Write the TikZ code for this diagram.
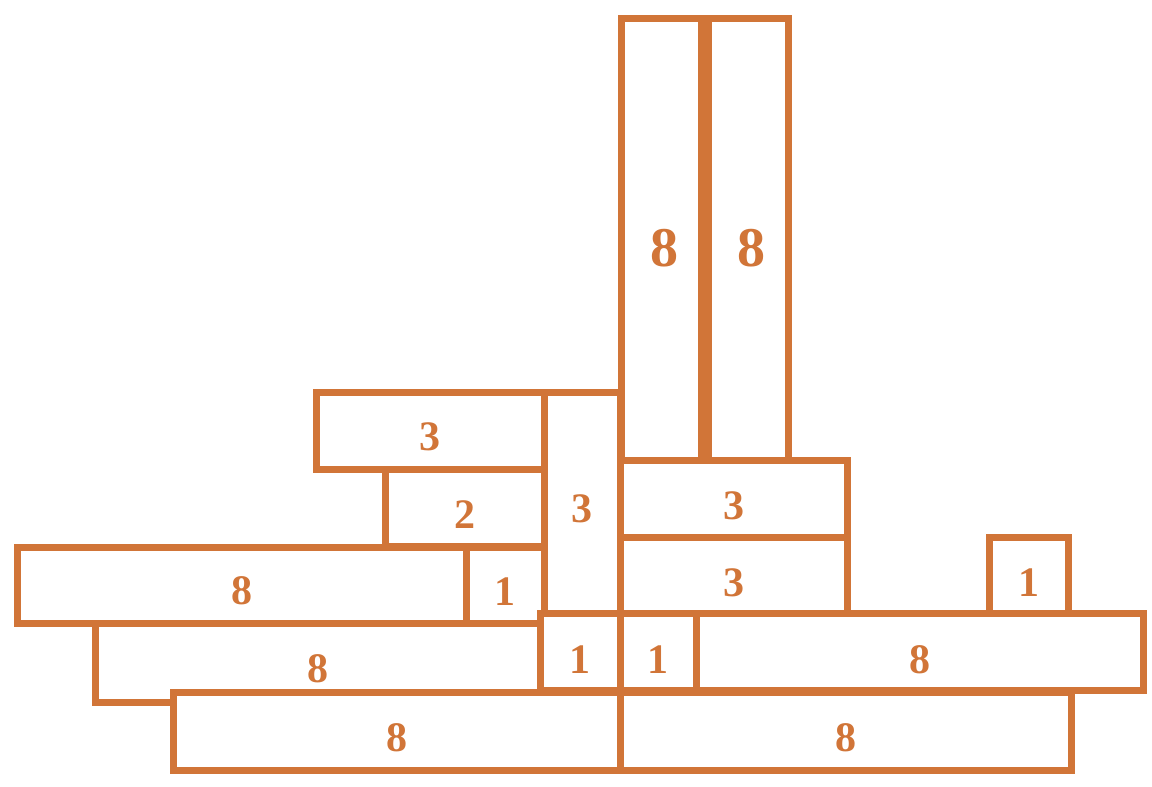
\documentclass[tikz,border=0pt]{standalone}
\usepackage{fontspec}
\setmainfont{Liberation Serif}
\definecolor{brick}{RGB}{209,117,56}
\tikzset{
  box/.style={draw=brick, fill=white, line width=7pt, rectangle, inner sep=0pt, outer sep=0pt,
    text=brick, font=\fontsize{42}{42}\selectfont\bfseries},
  tall/.style={box, font=\fontsize{56}{56}\selectfont\bfseries}
}
% \blk{name}{x1}{y1}{x2}{y2}{label}{style}{drop}
\newcommand{\blk}[8]{%
  \node[#7, minimum width={(#4-#2)*1pt}, minimum height={(#5-#3)*1pt}]
    (#1) at ({(#2+#4)/2},{(#3+#5)/2}) {\raisebox{-#8}[\height][\depth]{#6}};}
\begin{document}
\begin{tikzpicture}[x=1pt,y=-1pt]
\useasboundingbox (0,0) rectangle (1152,787);
\blk{tallL}{621}{18}{701}{460}{\hspace{6pt}8}{tall}{9pt}
\blk{tallR}{708}{18}{788}{460}{\hspace{6pt}8}{tall}{9pt}
\blk{topthree}{316}{392}{544}{469}{3}{box}{6pt}
\blk{vthree}{544}{392}{620}{614}{3}{box}{6pt}
\blk{two}{385}{469}{544}{546}{2}{box}{7pt}
\blk{rowAeight}{17}{547}{466}{623}{8}{box}{6pt}
\blk{rowAone}{466}{547}{544}{623}{1}{box}{7pt}
\blk{rthreeA}{620}{460}{847}{537}{3}{box}{7pt}
\blk{rthreeB}{620}{537}{847}{613}{3}{box}{8pt}
\blk{sone}{989}{537}{1068}{613}{1}{box}{8pt}
\blk{rowBeightL}{95}{623}{540}{702}{8}{box}{6pt}
\blk{rowBoneA}{540}{613}{620}{690}{1}{box}{8pt}
\blk{rowBoneB}{620}{613}{696}{690}{1}{box}{8pt}
\blk{rowBeightR}{696}{613}{1143}{690}{8}{box}{8pt}
\blk{botL}{173}{692}{620}{770}{8}{box}{7pt}
\blk{botR}{620}{692}{1071}{770}{8}{box}{7pt}
\end{tikzpicture}
\end{document}
